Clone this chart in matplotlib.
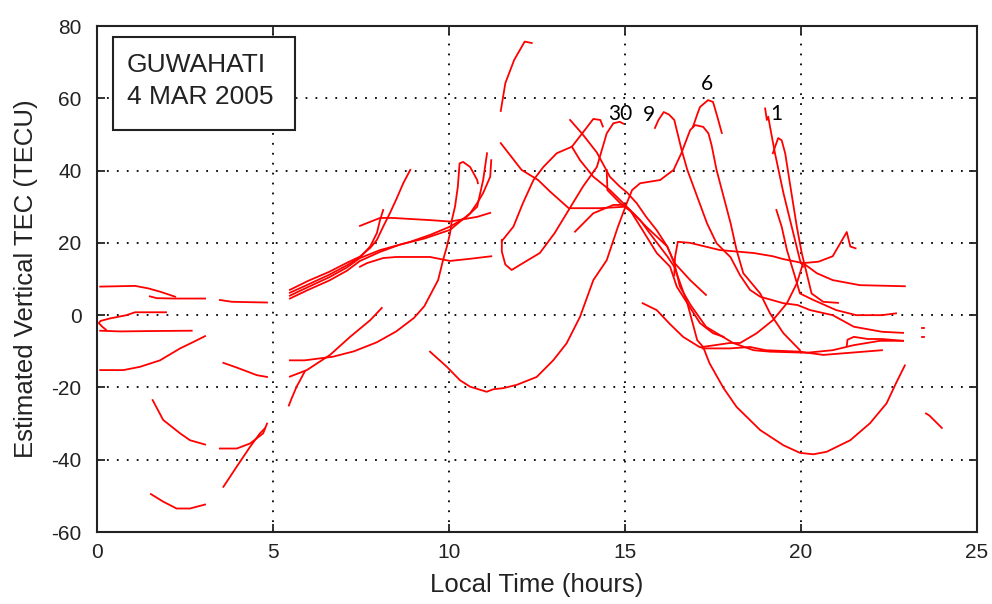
import matplotlib
matplotlib.use("Agg")
import matplotlib.pyplot as plt
from matplotlib.patches import Rectangle

plt.rcParams["axes.unicode_minus"] = False

# satellite arcs: (local time [h], vertical TEC [TECU])
night_arcs = [
    ([0.09, 1.08, 1.46, 1.79, 2.07, 2.22], [7.9, 8.1, 7.4, 6.5, 5.6, 5.1]),
    ([1.5, 1.7, 2.2, 3.07], [5.2, 4.7, 4.6, 4.6]),
    ([3.49, 3.83, 4.3, 4.83], [4.2, 3.7, 3.6, 3.5]),
    ([0.25, 0.15, 0.05, 0.1, 0.37, 0.84, 1.08, 1.96], [-4.0, -3.2, -2.2, -1.6, -0.9, 0.0, 0.8, 0.8]),
    ([0.09, 0.65, 1.5, 2.69], [-4.3, -4.5, -4.4, -4.3]),
    ([0.09, 0.75, 1.22, 1.79, 2.36, 2.7, 3.07], [-15.2, -15.2, -14.3, -12.5, -9.2, -7.6, -5.8]),
    ([3.59, 3.97, 4.54, 4.83], [-13.2, -14.5, -16.6, -17.1]),
    ([1.58, 1.88, 2.36, 2.64, 3.07], [-23.5, -29.0, -32.7, -34.6, -35.8]),
    ([3.49, 3.97, 4.35, 4.72, 4.83], [-36.9, -36.9, -35.5, -32.7, -30.0]),
    ([3.59, 3.97, 4.35, 4.63, 4.77], [-47.5, -41.9, -36.4, -32.7, -31.3]),
    ([1.53, 1.88, 2.26, 2.64, 3.07], [-49.5, -51.6, -53.5, -53.5, -52.4]),
]

morning_arcs = [
    ([5.48, 6.0, 6.6, 7.1, 7.47, 7.76, 7.95, 8.13, 8.32, 8.5, 8.7, 8.9],
     [7.0, 9.5, 12.0, 14.5, 16.2, 18.6, 20.8, 24.5, 28.2, 32.0, 36.5, 40.2]),
    ([5.48, 6.0, 6.6, 7.1, 7.47, 7.76, 7.95, 8.04, 8.13],
     [6.2, 8.5, 11.2, 13.8, 16.0, 19.0, 22.7, 26.3, 29.1]),
    ([5.48, 6.0, 6.6, 7.1, 7.47, 8.04, 8.9, 9.46, 10.03, 10.5, 10.8, 10.97, 11.08],
     [5.4, 7.8, 10.5, 13.2, 15.8, 18.0, 20.3, 22.2, 24.5, 27.2, 30.0, 37.4, 44.8]),
    ([5.48, 6.0, 6.6, 7.1, 7.47, 8.04, 8.6, 9.3, 10.03, 10.6, 10.8, 10.97, 11.17, 11.2],
     [4.6, 7.0, 9.6, 12.3, 15.0, 17.5, 19.5, 21.2, 23.6, 28.2, 31.0, 33.8, 38.3, 42.9]),
    ([7.47, 8.04, 8.4, 9.46, 10.03, 10.8, 11.17], [24.7, 26.9, 26.9, 26.3, 25.9, 27.2, 28.3]),
    ([7.47, 7.67, 8.13, 8.5, 9.46, 10.03, 10.6, 11.2], [13.4, 14.4, 15.8, 16.1, 16.1, 15.0, 15.6, 16.3]),
    ([5.48, 5.9, 6.7, 7.3, 7.95, 8.5, 9.0, 9.3, 9.5, 9.69, 9.83, 9.94, 10.03, 10.08,
      10.17, 10.25, 10.3, 10.4, 10.6, 10.8, 10.82],
     [-12.5, -12.5, -11.5, -10.0, -7.5, -4.5, -0.8, 2.5, 6.2, 9.7, 15.2, 19.0, 22.7, 26.3,
      30.0, 35.5, 42.0, 42.4, 41.0, 37.4, 36.5]),
    ([5.48, 5.96, 6.62, 7.19, 7.76, 8.09], [-17.0, -15.2, -11.0, -6.0, -1.4, 2.0]),
    ([5.45, 5.53, 5.67, 5.77, 5.9], [-25.0, -23.0, -19.8, -18.0, -15.6]),
]

noon_arcs = [
    # long arc: dip near 11 h, up through the 15 h crossing, down to 20 h
    ([9.46, 9.94, 10.31, 10.6, 11.07, 11.26, 11.54, 11.92, 12.49, 12.96, 13.34, 13.72, 14.1,
      14.48, 14.8, 15.05, 15.2, 15.43, 16.0, 16.38, 16.6, 16.85, 16.99, 17.22, 17.37, 17.46,
      17.6, 17.8, 18.0, 18.17, 18.36, 18.84, 19.12, 19.5, 19.97],
     [-10.1, -14.3, -18.0, -19.8, -21.2, -20.5, -20.2, -19.3, -17.1, -12.5, -7.8, -0.5, 9.7,
      15.2, 24.5, 31.0, 34.6, 36.5, 37.4, 40.2, 44.8, 51.2, 52.6, 52.1, 50.3, 47.0,
      40.2, 32.8, 25.4, 18.0, 11.6, 6.0, 0.5, -5.0, -9.7]),
    ([11.47, 11.6, 11.85, 12.15, 12.35], [56.5, 64.2, 70.6, 75.7, 75.3]),
    ([11.5, 11.83, 12.1, 12.4, 12.68, 13.06, 13.49, 13.8, 14.1, 14.3, 14.37],
     [20.5, 24.5, 31.0, 37.4, 41.0, 44.8, 46.6, 50.5, 54.3, 54.0, 52.2]),
    ([11.5, 11.5, 11.6, 11.78, 12.1, 12.58, 13.0, 13.4, 13.8, 14.2, 14.48, 14.67, 14.85, 14.95],
     [20.8, 17.6, 14.0, 12.5, 14.4, 17.2, 22.7, 29.1, 35.5, 41.0, 50.3, 53.1, 53.5, 53.0]),
    ([11.47, 12.06, 12.53, 12.87, 13.4, 14.29, 15.0, 15.14, 15.5, 15.9, 16.28, 16.47, 16.77,
      17.13, 17.5, 17.8],
     [47.6, 40.2, 37.4, 34.2, 29.6, 29.6, 30.0, 29.1, 23.5, 17.2, 13.4, 7.9, 3.3,
      -2.2, -5.0, -6.0]),
    # deep evening trough
    ([13.58, 14.1, 14.67, 15.0, 15.43, 15.7, 16.2, 16.4, 16.77, 17.05, 17.22, 17.4, 17.8,
      18.17, 18.84, 19.5, 19.97, 20.35, 20.73, 21.4, 21.96, 22.43, 22.7, 22.95],
     [23.1, 28.2, 30.5, 30.5, 26.3, 22.7, 16.3, 13.4, 3.3, -6.9, -8.8, -13.3, -20.2,
      -25.4, -31.8, -36.0, -38.1, -38.5, -37.8, -34.6, -29.9, -24.4, -18.8, -13.9]),
    ([13.44, 13.8, 14.2, 14.57, 14.86, 15.05, 15.33, 15.6, 15.9, 16.2, 16.4, 16.85, 17.3],
     [54.0, 50.0, 45.0, 38.3, 35.5, 34.0, 31.0, 27.2, 23.5, 19.0, 14.5, 9.7, 5.6]),
    ([13.49, 13.72, 14.1, 14.57, 15.0], [46.6, 42.9, 38.3, 34.6, 30.5]),
    ([14.48, 14.5, 14.86, 15.23, 15.6, 16.2, 16.4, 16.56, 16.85, 17.3, 18.07, 18.65, 19.12,
      20.16, 20.9, 21.5, 22.24, 22.9],
     [40.2, 34.6, 31.0, 28.2, 24.5, 19.0, 14.4, 7.9, 3.0, -3.2, -7.7, -9.7, -10.1,
      -10.4, -9.7, -8.3, -7.1, -7.1]),
]

evening_arcs = [
    ([15.85, 15.95, 16.1, 16.25, 16.4, 16.6, 16.77, 17.05, 17.33, 17.6, 18.0, 18.27, 18.55,
      18.84, 19.5, 19.9, 20.26, 20.9, 21.5, 22.3, 22.9],
     [51.8, 54.0, 56.2, 55.5, 54.0, 46.0, 40.2, 32.8, 25.4, 19.9, 16.0, 11.0, 7.0,
      5.1, 3.3, 2.8, 1.4, 0.0, -3.2, -4.6, -4.9]),
    ([16.93, 17.05, 17.13, 17.36, 17.5, 17.62, 17.75], [52.1, 55.5, 57.6, 59.5, 59.0, 55.0, 50.4]),
    ([16.4, 16.42, 16.5, 16.85, 17.7, 18.65, 19.2, 19.5, 20.06, 20.45, 20.9, 21.67, 22.95],
     [11.0, 16.0, 20.3, 20.0, 18.0, 17.2, 16.3, 15.5, 14.4, 11.6, 9.7, 8.3, 8.0]),
    ([18.98, 19.03, 19.07, 19.12, 19.26, 19.5, 19.78, 19.97, 20.06],
     [57.2, 54.0, 54.9, 52.1, 44.8, 33.8, 22.7, 15.2, 13.4]),
    ([19.2, 19.35, 19.45, 19.55, 19.7, 19.88, 20.02, 20.16, 20.3, 20.63, 21.05],
     [44.8, 49.0, 48.4, 44.8, 35.5, 24.5, 17.2, 11.6, 6.0, 3.7, 3.4]),
    ([19.3, 19.45, 19.6, 19.8, 19.97, 20.35, 21.0, 21.57, 22.3, 22.7],
     [29.1, 24.5, 18.0, 11.6, 6.0, 4.2, 1.4, 0.0, 0.0, 0.5]),
    ([15.5, 15.9, 16.28, 16.65, 17.13, 17.98, 18.27, 18.74, 19.2, 19.6, 19.88, 20.06, 20.5,
      20.9, 21.3, 21.4, 21.55],
     [3.3, 1.4, -2.5, -6.0, -8.9, -7.7, -7.7, -5.0, -1.4, 3.3, 8.8, 14.4, 14.8,
      16.3, 23.0, 19.0, 18.5]),
    ([17.2, 17.98, 18.55, 19.0, 19.97, 20.63, 21.4, 22.3], [-9.2, -9.2, -8.8, -9.7, -10.1, -11.0, -10.4, -9.7]),
    ([21.3, 21.32, 21.5, 21.9, 22.3, 22.9], [-8.5, -6.8, -6.0, -6.6, -6.6, -7.1]),
    ([23.44, 23.5], [-3.6, -3.6]),
    ([23.44, 23.5], [-6.0, -6.0]),
    ([23.55, 23.65, 24.0], [-27.2, -27.8, -31.2]),
]

prn_labels = ["30", "9", "6", "1"]
prn_hours = [14.86, 15.68, 17.33, 19.29]
prn_tec = [55.6, 55.4, 64.0, 55.6]

x_ticks = [0, 5, 10, 15, 20, 25]
y_ticks = [-60, -40, -20, 0, 20, 40, 60, 80]

sans = ["Liberation Sans", "DejaVu Sans"]
ink = "#222222"

fig = plt.figure(figsize=(9.92, 6.04), dpi=100)
ax = fig.add_axes([0.0978, 0.1192, 0.8871, 0.8377])

for arcs in (night_arcs, morning_arcs, noon_arcs, evening_arcs):
    for t, tec in arcs:
        ax.plot(t, tec, color="red", lw=1.3, solid_joinstyle="round")

ax.set_xlim(0, 25)
ax.set_ylim(-60, 80)
ax.set_xticks(x_ticks)
ax.set_yticks(y_ticks)
ax.grid(True, color="black", linestyle=(0, (1, 4.5)), linewidth=1.3)
ax.tick_params(direction="in", top=True, right=True, length=6, width=1.3, colors=ink)
ax.tick_params(axis="y", pad=11)
ax.tick_params(axis="x", pad=8)
for lab in ax.get_xticklabels() + ax.get_yticklabels():
    lab.set_family(sans)
    lab.set_fontsize(15)
for s in ax.spines.values():
    s.set_linewidth(1.5)
    s.set_color(ink)

ax.set_xlabel("Local Time (hours)", family=sans, fontsize=18.5, color=ink, labelpad=8)
ax.set_ylabel("Estimated Vertical TEC (TECU)", family=sans, fontsize=18.5, color=ink, labelpad=10)

ax.add_patch(Rectangle((0.018, 0.794), 0.207, 0.184, transform=ax.transAxes,
                       facecolor="white", edgecolor=ink, lw=1.5, zorder=5))
ax.text(0.034, 0.909, "GUWAHATI", transform=ax.transAxes, family=sans, fontsize=19,
        color=ink, va="baseline", zorder=6)
ax.text(0.034, 0.846, "4 MAR 2005", transform=ax.transAxes, family=sans, fontsize=19,
        color=ink, va="baseline", zorder=6)

for lab, t, v in zip(prn_labels, prn_hours, prn_tec):
    ax.text(t, v, lab, family=["Lato", "DejaVu Sans"], fontsize=15, ha="center", va="center",
            color="black", zorder=6)

fig.savefig("out.png", dpi=100)
